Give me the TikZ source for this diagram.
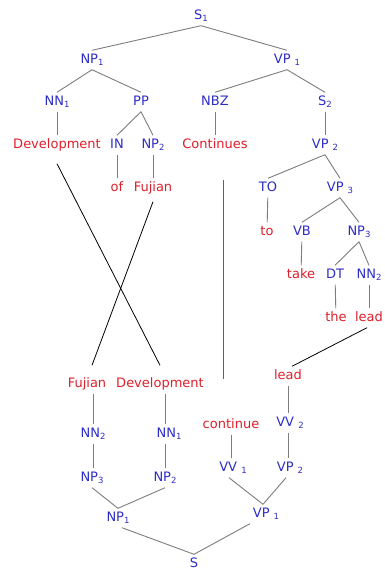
\documentclass[tikz,border=0pt]{standalone}
\usepackage{fontspec}
\setmainfont{DejaVu Sans}
\definecolor{tagblue}{RGB}{45,45,200}
\definecolor{wordred}{RGB}{222,32,44}
\definecolor{edgegray}{RGB}{125,125,125}
\newcommand\lsub[1]{\raisebox{-0.35ex}{\fontsize{8.5}{9}\selectfont #1}}
\tikzset{
  tag/.style={text=tagblue, inner sep=3.5pt, text height=9pt, text depth=3pt},
  word/.style={text=wordred, inner sep=3.5pt, text height=9pt, text depth=3pt},
  edge/.style={draw=edgegray, line width=0.9pt},
  linkline/.style={draw=black, line width=0.8pt}
}

\begin{document}
\begin{tikzpicture}[x=1pt, y=-1pt, font=\fontsize{13}{15}\selectfont]
		%%%%% START %%%%%
		\fill[white] (0,0) rectangle (385,570);
		\clip (0,0) rectangle (385,570);
		
		% upper tree
		\node[tag] (s1) at (201,16) {S\lsub{1}};
		\node[tag] (np1) at (92,60) {NP\lsub{1}};
		\node[tag] (vp1) at (287,60) {VP \lsub{1}};
		\node[tag] (nn1) at (57,102) {NN\lsub{1}};
		\node[tag] (pp) at (141,102) {PP};
		\node[tag] (nbz) at (215,102) {NBZ};
		\node[tag] (s2) at (325,102) {S\lsub{2}};
		\node[word] (dev) at (57,145) {Development};
		\node[tag] (tin) at (117,145) {IN};
		\node[tag] (np2) at (153,145) {NP\lsub{2}};
		\node[word] (cont) at (215,145) {Continues};
		\node[tag] (vp2) at (325,145) {VP \lsub{2}};
		\node[word] (wof) at (117,188) {of};
		\node[word] (fuj) at (153,188) {Fujian};
		\node[tag] (tto) at (268,188) {TO};
		\node[tag] (vp3) at (340,188) {VP \lsub{3}};
		\node[word] (wto) at (267,232) {to};
		\node[tag] (vb) at (302,232) {VB};
		\node[tag] (np3) at (359,232) {NP\lsub{3}};
		\node[word] (take) at (301,275) {take};
		\node[tag] (dt) at (335,275) {DT};
		\node[tag] (nn2) at (369,275) {NN\lsub{2}};
		\node[word] (the) at (336,318) {the};
		\node[word] (lead) at (369,318) {lead};
		
		\draw[edge] (s1.south) -- (np1.north);
		\draw[edge] (s1.south) -- (vp1.north);
		\draw[edge] (np1.south) -- (nn1.north);
		\draw[edge] (np1.south) -- (pp.north);
		\draw[edge] (vp1.south) -- (nbz.north);
		\draw[edge] (vp1.south) -- (s2.north);
		\draw[edge] (nn1) -- (dev);
		\draw[edge] (pp.south) -- (tin.north);
		\draw[edge] (pp.south) -- (np2.north);
		\draw[edge] (nbz) -- (cont);
		\draw[edge] (s2) -- (vp2);
		\draw[edge] (tin) -- (wof);
		\draw[edge] (np2) -- (fuj);
		\draw[edge] (vp2.south) -- (tto.north);
		\draw[edge] (vp2.south) -- (vp3.north);
		\draw[edge] (tto) -- (wto);
		\draw[edge] (vp3.south) -- (vb.north);
		\draw[edge] (vp3.south) -- (np3.north);
		\draw[edge] (vb) -- (take);
		\draw[edge] (np3.south) -- (dt.north);
		\draw[edge] (np3.south) -- (nn2.north);
		\draw[edge] (dt) -- (the);
		\draw[edge] (nn2.south -| lead) -- (lead.north);
		
		% lower tree
		\node[word] (leadb) at (288,376) {lead};
		\node[word] (fujb) at (87,384) {Fujian};
		\node[word] (devb) at (160,384) {Development};
		\node[word] (contb) at (231,425) {continue};
		\node[tag] (vvb2) at (290,423) {VV \lsub{2}};
		\node[tag] (nnb2) at (93,434) {NN\lsub{2}};
		\node[tag] (nnb1) at (169,434) {NN\lsub{1}};
		\node[tag] (vvb1) at (233,468) {VV \lsub{1}};
		\node[tag] (vpb2) at (290,468) {VP \lsub{2}};
		\node[tag] (npb3) at (92,478) {NP\lsub{3}};
		\node[tag] (npb2) at (165,478) {NP\lsub{2}};
		\node[tag] (npb1) at (118,518) {NP\lsub{1}};
		\node[tag] (vpb1) at (266,514) {VP \lsub{1}};
		\node[tag] (sb) at (194,564) {S};
		
		\draw[edge] (fujb.south -| nnb2) -- (nnb2.north);
		\draw[edge] (devb.south -| npb2) -- (nnb1.north -| npb2);
		\draw[edge] (nnb2.south) -- (npb3.north -| nnb2);
		\draw[edge] (nnb1.south -| npb2) -- (npb2.north);
		\draw[edge] (npb3.south) -- (npb1.north);
		\draw[edge] (npb2.south) -- (npb1.north);
		\draw[edge] ([xshift=4pt]npb1.south) -- (sb.north);
		\draw[edge] ([xshift=-16pt]vpb1.south) -- (sb.north);
		\draw[edge] (contb.south) -- (vvb1.north -| contb);
		\draw[edge] (leadb) -- (vvb2.north -| leadb);
		\draw[edge] (vvb2.south -| leadb) -- (vpb2.north -| leadb);
		\draw[edge] ([xshift=-4pt]vvb1.south) -- ([xshift=-3pt]vpb1.north);
		\draw[edge] ([xshift=-4pt]vpb2.south) -- ([xshift=-3pt]vpb1.north);
		
		% alignments
		\draw[linkline] ([yshift=-9pt]dev.south) -- ([yshift=9pt]devb.north);
		\draw[linkline] ([yshift=-4pt]fuj.south) -- ([xshift=5pt,yshift=9pt]fujb.north);
		\draw[linkline] ([xshift=-2pt]lead.south) -- ([xshift=4pt]leadb.north);
		\coordinate (bartop) at (223,180);
		\coordinate (barbot) at (223,379);
		\draw[edge, draw=black!62] (bartop) -- (barbot);
		%%%%% END %%%%%
\end{tikzpicture}
\end{document}
